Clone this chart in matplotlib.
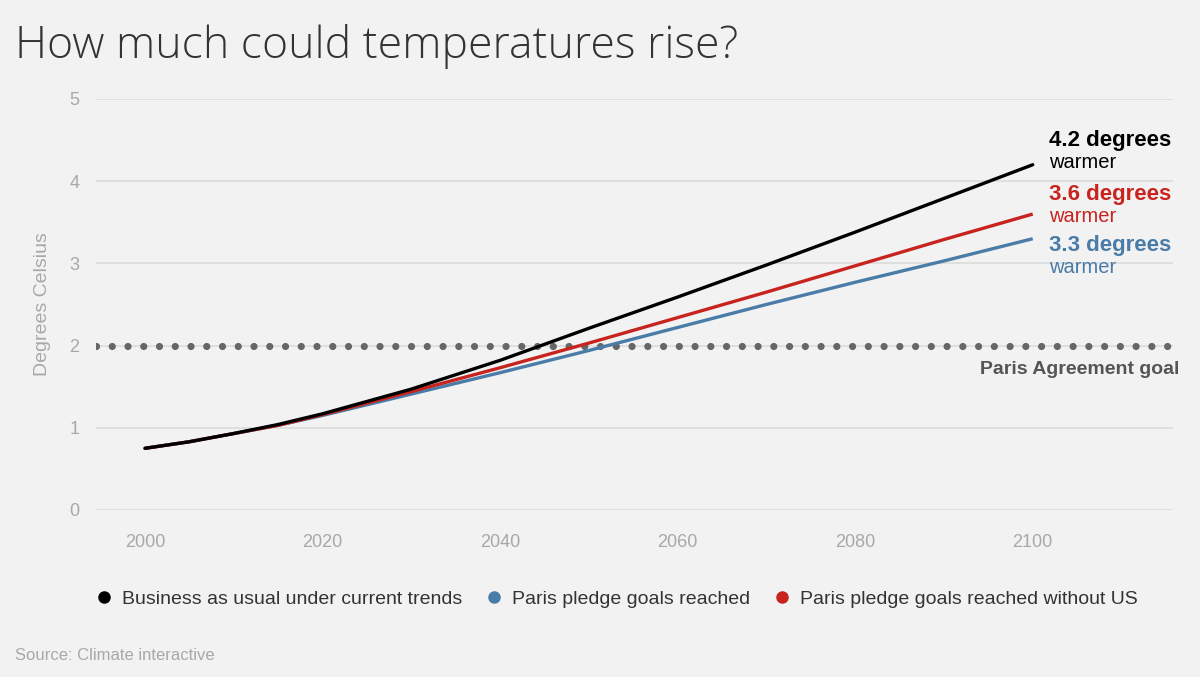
import matplotlib
matplotlib.use("Agg")
import matplotlib.pyplot as plt
from matplotlib.lines import Line2D

# data
years = [2000, 2005, 2010, 2015, 2020, 2030, 2040, 2050, 2060, 2070, 2080, 2090, 2100]
business = [0.75, 0.83, 0.93, 1.04, 1.17, 1.47, 1.82, 2.21, 2.59, 2.98, 3.38, 3.79, 4.2]
paris = [0.75, 0.83, 0.93, 1.03, 1.15, 1.41, 1.67, 1.94, 2.22, 2.50, 2.77, 3.03, 3.3]
paris_no_us = [0.75, 0.83, 0.93, 1.03, 1.16, 1.44, 1.73, 2.03, 2.34, 2.65, 2.97, 3.29, 3.6]
goal = 2
yticks = [0, 1, 2, 3, 4, 5]
xticks = [2000, 2020, 2040, 2060, 2080, 2100]

BG = "#f2f2f2"
BLACK = "#000000"
RED = "#c8241f"
BLUE = "#4a7ca8"

plt.rcParams["font.family"] = ["Liberation Sans", "DejaVu Sans"]

fig = plt.figure(figsize=(12, 6.77), dpi=100, facecolor=BG)
ax = fig.add_axes([0.08, 0.2467, 0.8975, 0.6071])
ax.set_facecolor(BG)

ax.set_xlim(1994.5, 2115.8)
ax.set_ylim(0, 5)
ax.set_yticks(yticks)
ax.set_xticks(xticks)
ax.grid(axis="y", color="#dcdcdc", lw=1.2)
ax.set_axisbelow(True)
for s in ax.spines.values():
    s.set_visible(False)
ax.tick_params(length=0, labelcolor="#a8a8a8", labelsize=13)
ax.tick_params(axis="x", pad=17)
ax.tick_params(axis="y", pad=12)
ax.set_ylabel("Degrees Celsius", color="#a8a8a8", fontsize=14, labelpad=13)

# Paris goal dotted line
ax.axhline(goal, color="#666666", lw=5.2, linestyle=(0, (0.001, 2.18)),
           dash_capstyle="round", zorder=2)
ax.text(2116.5, goal - 0.29, "Paris Agreement goal", ha="right", va="center",
        fontsize=14, fontweight="bold", color="#555555", clip_on=False)

ax.plot(years, paris, color=BLUE, lw=2.4, solid_capstyle="butt", zorder=3)
ax.plot(years, paris_no_us, color=RED, lw=2.4, solid_capstyle="butt", zorder=4)
ax.plot(years, business, color=BLACK, lw=2.4, solid_capstyle="round", zorder=5)

# end labels (offsets from the line end, in degrees)
for val, col, dy in [(business[-1], BLACK, 0.30), (paris_no_us[-1], RED, 0.24),
                     (paris[-1], BLUE, -0.08)]:
    ax.text(2101.8, val + dy, "%.1f degrees" % val, color=col, fontsize=16,
            fontweight="bold", va="center", ha="left", clip_on=False)
    ax.text(2101.8, val + dy - 0.27, "warmer", color=col, fontsize=14.5,
            va="center", ha="left", clip_on=False)

fig.text(0.0125, 0.932, "How much could temperatures rise?", fontsize=32,
         color="#333333", va="center", ha="left", fontweight="light",
         family=["Open Sans", "DejaVu Sans"])

handles = [Line2D([], [], marker="o", ls="", color=c, markersize=8)
           for c in [BLACK, BLUE, RED]]
labels = ["Business as usual under current trends", "Paris pledge goals reached",
          "Paris pledge goals reached without US"]
fig.legend(handles, labels, loc="center left", bbox_to_anchor=(0.066, 0.115),
           ncol=3, frameon=False, fontsize=14, handlelength=0.8,
           handletextpad=0.5, columnspacing=1.25, labelcolor="#333333")

fig.text(0.0125, 0.032, "Source: Climate interactive", fontsize=12,
         color="#a8a8a8", va="center", ha="left")

fig.savefig("out.png", dpi=100, facecolor=BG)
